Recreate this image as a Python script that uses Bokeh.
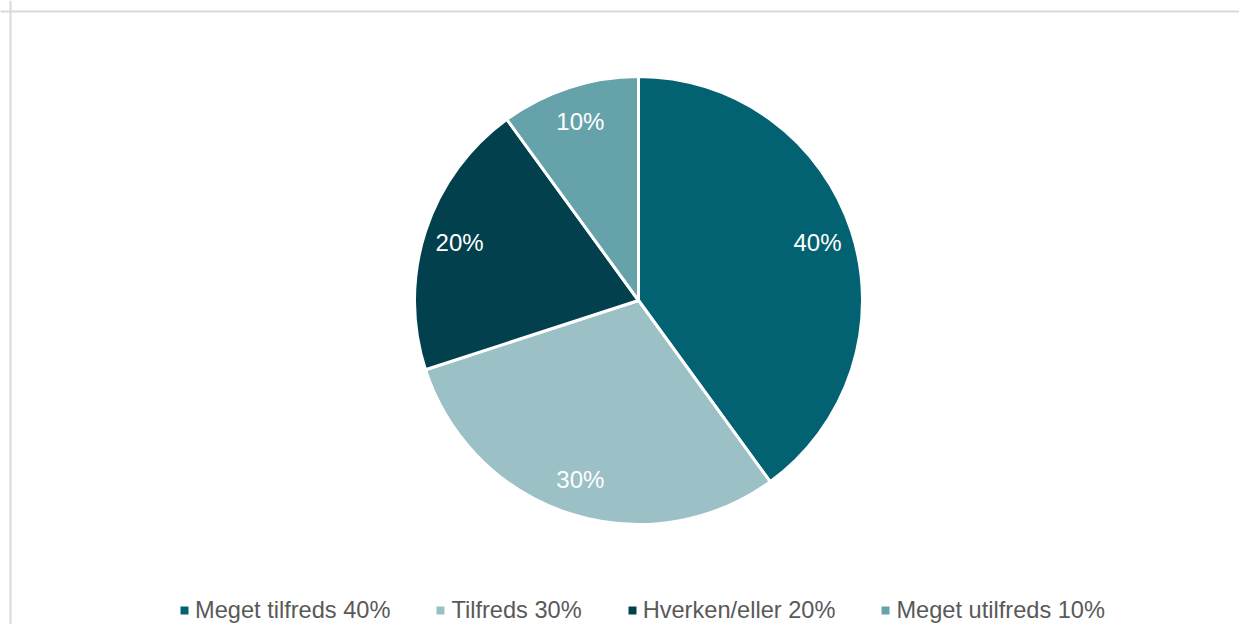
import numpy as np
from bokeh.plotting import figure
from bokeh.models import Range1d, Legend, LegendItem, Span, ColumnDataSource
from bokeh.core.properties import value
from bokeh.embed import file_html
from bokeh.resources import INLINE

categories = ["Meget tilfreds", "Tilfreds", "Hverken/eller", "Meget utilfreds"]
values = [40, 30, 20, 10]
colors = ["#036272", "#9BC0C6", "#02404E", "#66A2AA"]

FONT = "Liberation Sans"
W, H = 1239, 624
p = figure(width=W, height=H, x_range=Range1d(0, W), y_range=Range1d(0, H),
           x_axis_type=None, y_axis_type=None, output_backend="svg",
           toolbar_location=None, min_border=0)
p.grid.visible = False
p.outline_line_color = None
p.background_fill_color = "white"

cx, cy, R = 638, 324, 224

vals = np.array(values, dtype=float)
frac = vals / vals.sum()
cum = np.cumsum(frac)
start = np.pi / 2 - 2 * np.pi * cum
end = np.pi / 2 - 2 * np.pi * (cum - frac)
mid = (start + end) / 2
lr = 0.84 * R
src = ColumnDataSource(dict(
    start=start, end=end, color=colors,
    lx=cx + lr * np.cos(mid), ly=cy + lr * np.sin(mid),
    lab=[f"{v}%" for v in values],
))

p.wedge(x=cx, y=cy, radius=R, start_angle="start", end_angle="end",
        fill_color="color", line_color="white", line_width=3, source=src)
p.text(x="lx", y="ly", text="lab", source=src, text_color="white",
       text_font=value(FONT), text_font_size="24px",
       text_align="center", text_baseline="middle")

# chart border (top and left edges visible)
p.add_layout(Span(location=H - 11, dimension="width", line_color="#d9d9d9", line_width=2))
p.add_layout(Span(location=10, dimension="height", line_color="#d9d9d9", line_width=2))

items = []
for cat, v, c in zip(categories, values, colors):
    r = p.scatter(x=[-1000], y=[-1000], marker="square", fill_color=c,
                  line_color=None, size=8)
    items.append(LegendItem(label=f"{cat} {v}%", renderers=[r]))

legend = Legend(items=items, orientation="horizontal", location=(174, 0.5),
                glyph_width=20, glyph_height=20, label_standoff=1, spacing=40,
                padding=0, margin=0, border_line_color=None,
                background_fill_alpha=0,
                label_text_font=FONT, label_text_font_size="23.6px",
                label_text_color="#595959")
p.add_layout(legend, "center")

open("out.html", "w").write(file_html(p, INLINE))
